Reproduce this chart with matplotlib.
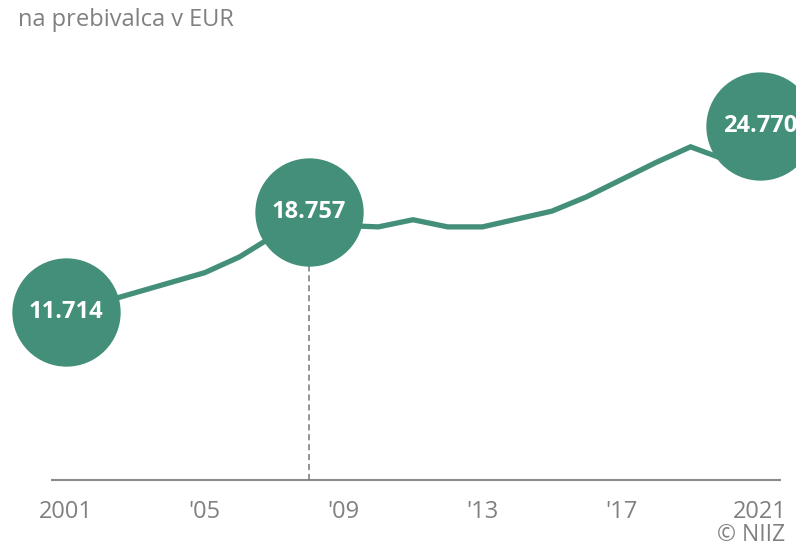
import matplotlib
matplotlib.use("Agg")
import matplotlib.pyplot as plt

# BDP na prebivalca v EUR
leta = list(range(2001, 2022))
vrednosti = [11.714, 12.4, 13.1, 13.8, 14.5, 15.6, 17.1, 18.757, 17.8, 17.7,
             18.2, 17.7, 17.7, 18.25, 18.8, 19.8, 21.0, 22.2, 23.3, 22.4, 24.770]
oznacena_leta = [2001, 2008, 2021]
oznake = ["11.714", "18.757", "24.770"]
tick_leta = [2001, 2005, 2009, 2013, 2017, 2021]
tick_oznake = ["2001", "'05", "'09", "'13", "'17", "2021"]

zelena = "#438f79"
siva = "#808080"

fig = plt.figure(figsize=(7.96, 5.5), dpi=100)
ax = fig.add_axes([0, 0, 1, 1])
ax.set_axis_off()

# pixel -> data mapping (2001 at 66px, 34.7px per year, 0 at 480px, 14.3px per 1000)
px_leto = 34.7
x0 = 2001 - 66 / px_leto
x1 = 2001 + (796 - 66) / px_leto
ax.set_xlim(x0, x1)
ax.set_ylim(-70 / 14.3, 480 / 14.3)

# osnovna črta
ax.plot([2001 - 15 / px_leto, 2021 + 21 / px_leto], [0, 0], color="#8a8a8a", lw=1.5,
        solid_capstyle="butt", zorder=1)

# črtkana navpična črta pri 2008
i08 = leta.index(2008)
ax.plot([2008, 2008], [0, vrednosti[i08]], color="#777777", lw=1.1,
        ls=(0, (4, 2.5)), zorder=1)

ax.plot(leta, vrednosti, color=zelena, lw=3.8, solid_joinstyle="miter", zorder=2)

for leto, oz in zip(oznacena_leta, oznake):
    v = vrednosti[leta.index(leto)]
    ax.plot(leto, v, "o", ms=78, color=zelena, mec="none", zorder=3, clip_on=False)
    ax.text(leto, v, oz, ha="center", va="center", color="white", fontsize=17,
            fontweight="bold", family=["Open Sans", "DejaVu Sans"], zorder=4)

for leto, oz in zip(tick_leta, tick_oznake):
    ax.text(leto, -32 / 14.3, oz, ha="center", va="center", color=siva, fontsize=17,
            family=["Open Sans", "DejaVu Sans"])

fig.text(18 / 796, 1 - 20 / 550, "na prebivalca v EUR", ha="left", va="center",
         color=siva, fontsize=17, family=["Open Sans", "DejaVu Sans"])
fig.text(785 / 796, 1 - 535 / 550, "© NIIZ", ha="right", va="center",
         color=siva, fontsize=16.5, family=["Open Sans", "DejaVu Sans"])

fig.savefig("out.png", dpi=100)
